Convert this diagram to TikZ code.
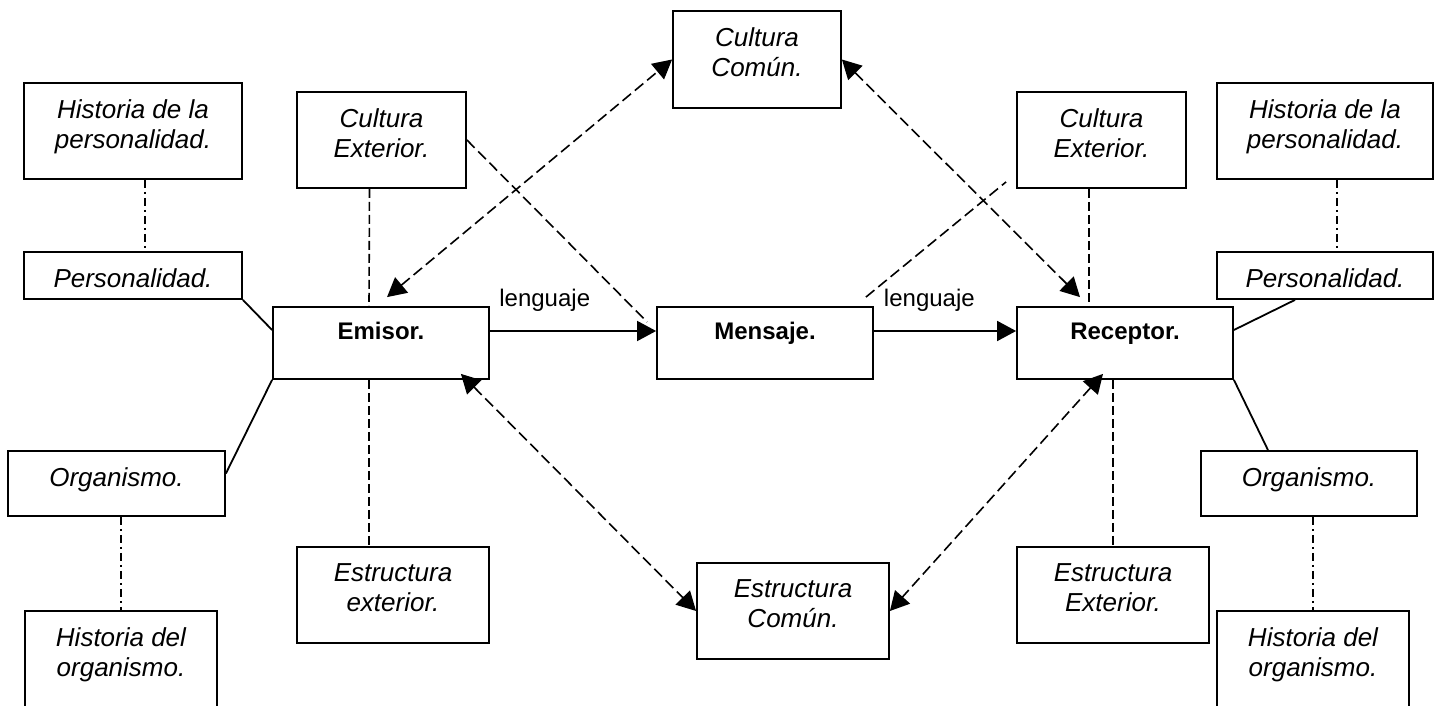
\documentclass[tikz,border=0pt]{standalone}
\usepackage{fontspec}
\setmainfont{Liberation Sans}
\usetikzlibrary{arrows.meta}

\begin{document}
\begin{tikzpicture}[x=0.5pt, y=-0.5pt,
	caja/.style={draw, line width=0.9pt, inner sep=0pt},
	cursiva/.style={anchor=north, yshift=-8.5pt, inner sep=0pt, align=center, font=\fontsize{13pt}{15.3pt}\selectfont\itshape},
	negrita/.style={anchor=north, yshift=-8pt, inner sep=0pt, align=center, font=\fontsize{12pt}{15.3pt}\selectfont\bfseries},
	lenguaje/.style={anchor=base, yshift=12.3pt, inner sep=0pt, font=\fontsize{12pt}{15.3pt}\selectfont},
	linea/.style={line width=0.9pt},
	raya/.style={line width=0.8pt, dash pattern=on 4.5pt off 2pt},
	rayapunto/.style={line width=0.8pt, dash pattern=on 4pt off 2pt on 1pt off 2pt},
	rayalarga/.style={line width=0.8pt, dash pattern=on 5.5pt off 2.5pt},
	punta/.style={-{Triangle[length=9.5pt,width=10pt]}},
	dospuntas/.style={{Triangle[length=9.5pt,width=10pt]}-{Triangle[length=9.5pt,width=10pt]}}]
\useasboundingbox (0,0) rectangle (1442,706);
% emisor
\node[caja, minimum width=109pt, minimum height=48pt, label={[cursiva]north:{Historia de la\\personalidad.}}] (hpi) at (133,131) {};
\node[caja, minimum width=84.5pt, minimum height=48pt, label={[cursiva]north:{Cultura\\Exterior.}}] (cei) at (381.5,140) {};
\node[caja, minimum width=109pt, minimum height=23.5pt, label={[cursiva]north:{Personalidad.}}] (pei) at (133,275.5) {};
\node[caja, minimum width=108pt, minimum height=36pt, label={[negrita]north:{Emisor.}}] (emi) at (381,343) {};
\node[caja, minimum width=108.5pt, minimum height=32.5pt, label={[cursiva]north:{Organismo.}}] (ori) at (116.5,483.5) {};
\node[caja, minimum width=96pt, minimum height=50pt, label={[cursiva]north:{Historia del\\organismo.}}] (hoi) at (121,661) {};
\node[caja, minimum width=96pt, minimum height=48pt, label={[cursiva]north:{Estructura\\exterior.}}] (esi) at (393,595) {};
% centro
\node[caja, minimum width=84pt, minimum height=48.5pt, label={[cursiva]north:{Cultura\\Común.}}] (cc) at (757,59.5) {};
\node[caja, minimum width=108pt, minimum height=36pt, label={[negrita]north:{Mensaje.}}] (men) at (765,343) {};
\node[caja, minimum width=96pt, minimum height=48pt, label={[cursiva]north:{Estructura\\Común.}}] (ec) at (793,611) {};
% receptor
\node[caja, minimum width=84.5pt, minimum height=48pt, label={[cursiva]north:{Cultura\\Exterior.}}] (ced) at (1101.5,140) {};
\node[caja, minimum width=108pt, minimum height=48pt, label={[cursiva]north:{Historia de la\\personalidad.}}] (hpd) at (1325,131) {};
\node[caja, minimum width=108pt, minimum height=23.5pt, label={[cursiva]north:{Personalidad.}}] (ped) at (1325,275.5) {};
\node[caja, minimum width=108pt, minimum height=36pt, label={[negrita]north:{Receptor.}}] (rec) at (1125,343) {};
\node[caja, minimum width=108pt, minimum height=32.5pt, label={[cursiva]north:{Organismo.}}] (ord) at (1309,483.5) {};
\node[caja, minimum width=96pt, minimum height=50pt, label={[cursiva]north:{Historia del\\organismo.}}] (hod) at (1313,661) {};
\node[caja, minimum width=96pt, minimum height=48pt, label={[cursiva]north:{Estructura\\Exterior.}}] (esd) at (1113,595) {};

\draw[rayapunto] ([xshift=6pt]hpi.south) -- ([xshift=6pt]pei.north);
\draw[raya] ([xshift=-6pt]cei.south) -- ([xshift=-6pt]emi.north);
\draw[linea] (pei.south east) -- ([yshift=6.5pt]emi.west);
\draw[linea] (emi.south west) -- ([yshift=5pt]ori.east);
\draw[rayapunto] (ori.south -| hoi.north) -- (hoi.north);
\draw[raya] ([xshift=-6pt]emi.south) -- ([xshift=-6pt]emi.south |- esi.north);

\draw[rayapunto] ([xshift=6pt]hpd.south) -- ([xshift=6pt]ped.north);
\draw[raya] ([xshift=-6.25pt]ced.south) -- ([xshift=-6.25pt]ced.south |- rec.north);
\draw[linea] ([xshift=-15pt]ped.south) -- ([yshift=6.5pt]rec.east);
\draw[linea] (rec.south east) -- ([xshift=-20.5pt]ord.north);
\draw[rayapunto] (ord.south -| hod.north) -- (hod.north);
\draw[raya] ([xshift=-6pt]rec.south) -- (esd.north);

\draw[linea, punta] ([yshift=6pt]emi.east) -- ([yshift=6pt]men.west) node[lenguaje, pos=0.33] {lenguaje};
\draw[linea, punta] ([yshift=6pt]men.east) -- ([yshift=6pt]rec.west) node[lenguaje, pos=0.39] {lenguaje};

\draw[rayalarga, dospuntas] ([xshift=3pt, yshift=4.5pt]emi.north) -- (cc.west);
\draw[rayalarga, dospuntas] (cc.east) -- ([xshift=-22.5pt, yshift=4.5pt]rec.north);
\draw[rayalarga, dospuntas] ([xshift=-14.5pt, yshift=3pt]emi.south east) -- (ec.west);
\draw[rayalarga, dospuntas] ([xshift=-11pt, yshift=3pt]rec.south) -- (ec.east);
\draw[rayalarga] (cei.east) -- ([xshift=-4.5pt, yshift=10.5pt]men.west);
\draw[rayalarga] ([xshift=-4pt, yshift=4.5pt]men.north east) -- ([xshift=-5pt, yshift=3.5pt]ced.south west);
\end{tikzpicture}
\end{document}
